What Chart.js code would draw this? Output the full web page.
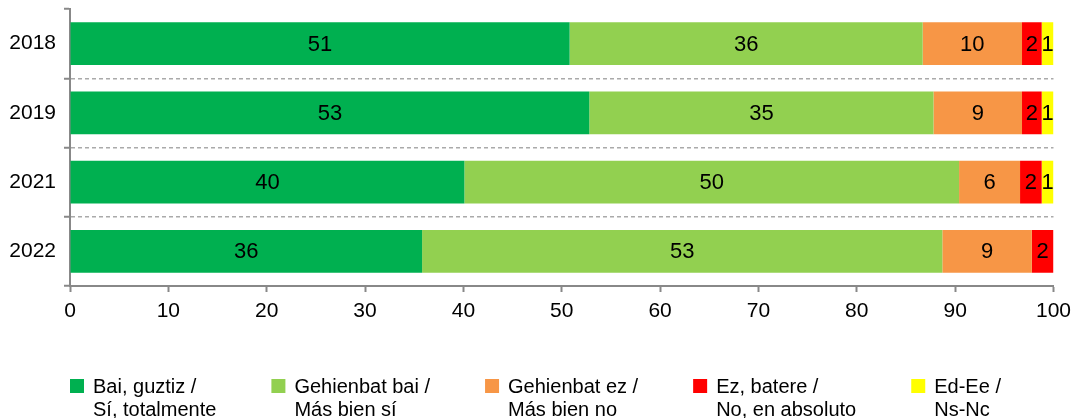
<!DOCTYPE html>
<html>
<head>
<meta charset="utf-8">
<script src="https://cdn.jsdelivr.net/npm/chart.js@4/dist/chart.umd.min.js"></script>
<style>
  html, body { margin: 0; padding: 0; background: #fff; }
  #wrap { width: 1078px; height: 418px; position: relative; }
</style>
</head>
<body>
<div id="wrap"><canvas id="chart_cv"></canvas></div>
<script>
// データ
const years = ['2018', '2019', '2021', '2022'];
const seriesNames = [
  ['Bai, guztiz /', 'Sí, totalmente'],
  ['Gehienbat bai /', 'Más bien sí'],
  ['Gehienbat ez /', 'Más bien no'],
  ['Ez, batere /', 'No, en absoluto'],
  ['Ed-Ee /', 'Ns-Nc']
];
const baiGuztiz    = [50.8, 52.8, 40.1, 35.8];
const gehienbatBai = [35.9, 35.0, 50.3, 52.9];
const gehienbatEz  = [10.1,  9.0,  6.2,  9.1];
const ezBatere     = [ 2.0,  2.0,  2.2,  2.2];
const edEe         = [ 1.2,  1.2,  1.2,  0];
const xTicks = [0, 10, 20, 30, 40, 50, 60, 70, 80, 90, 100];

const colors = ['#00B050', '#92D050', '#F79646', '#FF0000', '#FFFF00'];
const FONT = "'Liberation Sans', Arial, sans-serif";

Chart.defaults.font.family = FONT;
Chart.defaults.font.size = 20;
Chart.defaults.color = '#000';

const values = [baiGuztiz, gehienbatBai, gehienbatEz, ezBatere, edEe];
const data = {
  labels: years,
  datasets: values.map((v, i) => ({
    label: seriesNames[i].join(' '),
    data: v,
    backgroundColor: colors[i],
    borderWidth: 0,
    barPercentage: 0.615,
    categoryPercentage: 1.0
  }))
};

// バーの中の数字
const barLabels = {
  id: 'barLabels',
  afterDatasetsDraw(chart) {
    const ctx = chart.ctx;
    ctx.save();
    ctx.font = '22px ' + FONT;
    ctx.fillStyle = '#000';
    ctx.textAlign = 'center';
    ctx.textBaseline = 'middle';
    chart.data.datasets.forEach((ds, di) => {
      const meta = chart.getDatasetMeta(di);
      meta.data.forEach((bar, j) => {
        const v = ds.data[j];
        if (!v) return;
        ctx.fillText(String(Math.round(v)), (bar.x + bar.base) / 2, bar.y + 1);
      });
    });
    ctx.restore();
  }
};

// 凡例 (2行ラベル)
const twoLineLegend = {
  id: 'twoLineLegend',
  afterDraw(chart) {
    const ctx = chart.ctx;
    ctx.save();
    ctx.font = '20px ' + FONT;
    ctx.textBaseline = 'alphabetic';
    ctx.textAlign = 'left';
    let x = chart.chartArea.left;
    const top = 379;
    seriesNames.forEach((lines, i) => {
      ctx.fillStyle = colors[i];
      ctx.fillRect(x, top, 14, 14);
      ctx.fillStyle = '#000';
      const tx = x + 23;
      ctx.fillText(lines[0], tx, top + 14);
      ctx.fillText(lines[1], tx, top + 37);
      const w = Math.max(ctx.measureText(lines[0]).width, ctx.measureText(lines[1]).width);
      x = tx + w + 55;
    });
    ctx.restore();
  }
};

const ctx = document.getElementById('chart_cv');
const chart_cv = new Chart(ctx, {
  type: 'bar',
  data: data,
  options: {
    indexAxis: 'y',
    responsive: true,
    maintainAspectRatio: false,
    animation: false,
    layout: { padding: { top: 9, right: 22, left: 0, bottom: 0 } },
    plugins: {
      legend: { display: false },
      tooltip: { enabled: false }
    },
    scales: {
      x: {
        stacked: true,
        min: 0,
        max: 100,
        afterBuildTicks(scale) { scale.ticks = xTicks.map(v => ({ value: v })); },
        afterFit(scale) { scale.height = 132; },
        ticks: { padding: 7, color: '#000', font: { size: 21 } },
        grid: { drawOnChartArea: false, tickLength: 6, tickColor: '#888', tickWidth: 2 },
        border: { color: '#888', width: 2 }
      },
      y: {
        stacked: true,
        afterFit(scale) {
          scale.width = 70;
          scale.paddingTop = 0;
          scale.paddingBottom = 0;
        },
        ticks: { padding: 8, color: '#000', font: { size: 21 } },
        grid: {
          offset: true,
          color: (c) => (c.index === 0 || c.index === years.length) ? 'rgba(0,0,0,0)' : '#AAAAAA',
          lineWidth: 1.5,
          tickLength: 6,
          tickColor: '#888',
          tickWidth: 2
        },
        border: { color: '#888', width: 2, dash: [4, 3] }
      }
    }
  },
  plugins: [barLabels, twoLineLegend]
});
</script>
</body>
</html>
